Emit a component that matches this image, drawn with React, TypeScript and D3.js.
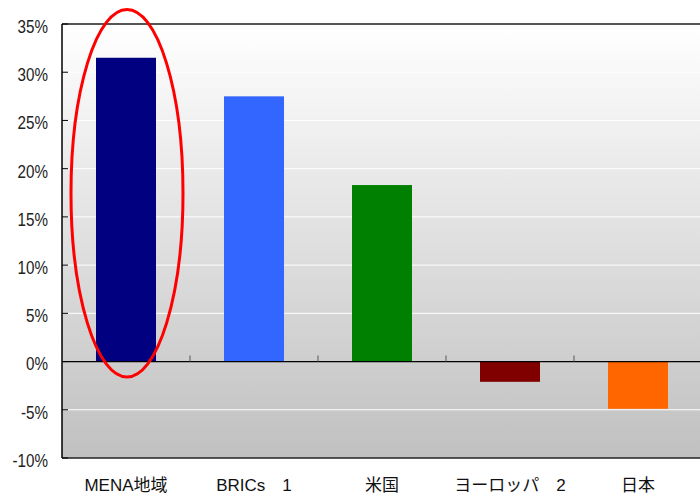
import React from "react";
import * as d3 from "d3";

const categories = ["MENA地域", "BRICs　1", "米国", "ヨーロッパ　2", "日本"];
const values = [31.5, 27.5, 18.3, -2.1, -4.9];
const colors = ["#000080", "#3366ff", "#008000", "#800000", "#ff6600"];
const yTicks = [35, 30, 25, 20, 15, 10, 5, 0, -5, -10];
const highlightRange = [36.5, -1.6];

const W = 700, H = 495;
const left = 62, top = 24, bottom = 458, right = 702;

export default function App() {
  const x = d3.scaleBand<string>().domain(categories).range([left, right]).paddingInner(0).paddingOuter(0);
  const y = d3.scaleLinear().domain([-10, 35]).range([bottom, top]);
  const bw = x.bandwidth();
  const barW = bw * 60 / 128;
  const font = "'Liberation Sans', Arial, sans-serif";
  const cjk = "'Liberation Sans', 'Noto Sans CJK JP', sans-serif";
  const cx = (x(categories[0]) as number) + bw / 2 + 1;
  const ey1 = y(highlightRange[0]);
  const ey2 = y(highlightRange[1]);
  return (
    <svg width={W} height={H} style={{ position: "absolute", left: 0, top: 0 }}>
      <defs>
        <linearGradient id="bg" x1="0" y1="0" x2="0" y2="1">
          <stop offset="0%" stopColor="#ffffff" />
          <stop offset="100%" stopColor="#c0c0c0" />
        </linearGradient>
      </defs>
      <rect x={0} y={0} width={W} height={H} fill="#fff" />
      <rect x={left} y={top} width={right - left} height={bottom - top} fill="url(#bg)" />
      {yTicks.filter(t => t !== 0 && t !== 35 && t !== -10).map(t => (
        <line key={"g" + t} x1={left} x2={right} y1={y(t)} y2={y(t)} stroke="#ffffff" strokeWidth={1} />
      ))}
      {categories.map((c, i) => {
        const v = values[i];
        const cxx = (x(c) as number) + bw / 2;
        return (
          <rect key={c} x={cxx - barW / 2} width={barW} y={Math.min(y(v), y(0))} height={Math.abs(y(v) - y(0))} fill={colors[i]} />
        );
      })}
      <line x1={left} x2={right} y1={top} y2={top} stroke="#555" strokeWidth={2} />
      <line x1={left} x2={right} y1={bottom} y2={bottom} stroke="#222" strokeWidth={1.5} />
      <line x1={left} x2={left} y1={top} y2={bottom} stroke="#000" strokeWidth={1.5} />
      <line x1={left} x2={right} y1={y(0)} y2={y(0)} stroke="#000" strokeWidth={1.2} />
      {yTicks.map(t => (
        <line key={"t" + t} x1={left} x2={left + 6} y1={y(t)} y2={y(t)} stroke="#000" strokeWidth={1} />
      ))}
      {categories.slice(1).map(c => (
        <line key={"ct" + c} x1={x(c) as number} x2={x(c) as number} y1={y(0)} y2={y(0) - 6} stroke="#555" strokeWidth={1} />
      ))}
      {yTicks.map(t => (
        <text key={"l" + t} x={0} y={0} dy="0.36em" textAnchor="end" fontFamily={font} fontSize={19} fill="#222"
          transform={`translate(48,${y(t) + 2}) scale(0.8,1)`}>
          {t + "%"}
        </text>
      ))}
      {categories.map(c => (
        <text key={"x" + c} x={(x(c) as number) + bw / 2} y={491} textAnchor="middle" fontFamily={cjk} fontSize={17} fill="#111">
          {c}
        </text>
      ))}
      <ellipse cx={cx} cy={(ey1 + ey2) / 2} rx={56} ry={(ey2 - ey1) / 2} fill="none" stroke="#ff0000" strokeWidth={3} />
    </svg>
  );
}
